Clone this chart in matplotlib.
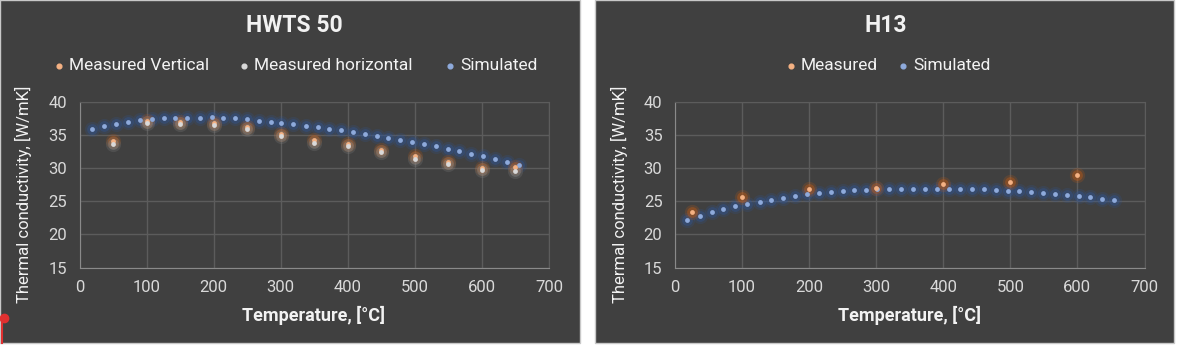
import matplotlib
matplotlib.use("Agg")
import matplotlib.pyplot as plt
from matplotlib.patches import Rectangle
from matplotlib.lines import Line2D

W, H = 1177, 346
BG, GRID, AXIS = "#404040", "#5c5c5c", "#8a8a8a"
TXT, TICK = "#f2f2f2", "#d9d9d9"
C_SIM, C_SIM_GLOW = "#8eaadb", "#2f5597"
C_VERT, C_VERT_GLOW = "#f4b183", "#c55a11"
C_HOR, C_HOR_GLOW = "#d9d9d9", "#8c8c8c"

plt.rcParams["font.family"] = ["Roboto", "DejaVu Sans"]

# simulated curves share the same temperature grid
sim_temp = [18, 37, 55, 72, 90, 108, 126, 143, 161, 179, 197, 214, 232, 250,
            267, 285, 301, 319, 337, 355, 372, 390, 408, 425, 443, 460, 478,
            496, 513, 531, 549, 566, 584, 602, 619, 637, 655]
hwts_sim = [35.9, 36.3, 36.7, 37.0, 37.25, 37.4, 37.5, 37.6, 37.6, 37.6, 37.65,
            37.5, 37.5, 37.35, 37.15, 37.0, 36.8, 36.6, 36.35, 36.15, 35.95,
            35.7, 35.45, 35.15, 34.9, 34.6, 34.2, 33.9, 33.6, 33.25, 32.85,
            32.5, 32.1, 31.8, 31.35, 30.95, 30.4]
h13_sim = [22.2, 22.7, 23.3, 23.75, 24.2, 24.6, 24.9, 25.25, 25.45, 25.8, 26.05,
           26.2, 26.4, 26.5, 26.65, 26.7, 26.8, 26.85, 26.9, 26.9, 26.9, 26.9,
           26.9, 26.9, 26.8, 26.8, 26.65, 26.6, 26.55, 26.35, 26.2, 26.15,
           25.9, 25.8, 25.6, 25.35, 25.25]

hwts_meas_temp = [50, 100, 150, 200, 250, 300, 350, 400, 450, 500, 550, 600, 650]
hwts_vertical = [34.0, 37.15, 37.0, 36.85, 36.2, 35.1, 34.15, 33.6, 32.65,
                 31.75, 30.95, 30.0, 30.15]
hwts_horizontal = [33.55, 36.8, 36.7, 36.5, 35.9, 34.8, 33.8, 33.25, 32.35,
                   31.35, 30.6, 29.7, 29.5]

h13_meas_temp = [25, 100, 200, 300, 400, 500, 600]
h13_measured = [23.3, 25.6, 26.9, 27.05, 27.6, 27.9, 28.95]

x_ticks = [0, 100, 200, 300, 400, 500, 600, 700]
y_ticks = [15, 20, 25, 30, 35, 40]


def px(x, y):
    """pixel (from top-left) -> figure fraction"""
    return x / W, 1 - y / H


def glow(ax, xs, ys, core, halo):
    # soft halo under each dot, like the Excel glow effect
    ax.scatter(xs, ys, s=120, color=halo, alpha=0.2, lw=0, zorder=3)
    ax.scatter(xs, ys, s=60, color=halo, alpha=0.4, lw=0, zorder=3)
    ax.scatter(xs, ys, s=12, color=core, lw=0, zorder=4)


def style(ax):
    ax.set_facecolor(BG)
    ax.set_zorder(2)
    ax.set_xlim(0, 700)
    ax.set_ylim(15, 40)
    ax.set_xticks(x_ticks)
    ax.set_yticks(y_ticks)
    ax.grid(True, color=GRID, lw=1)
    ax.set_axisbelow(True)
    ax.tick_params(length=0, colors=TICK, labelsize=12, pad=9)
    for s in ("top", "right"):
        ax.spines[s].set_color(GRID)
    for s in ("left", "bottom"):
        ax.spines[s].set_color(AXIS)


fig = plt.figure(figsize=(W / 100, H / 100), dpi=100, facecolor="white")

# the two chart panels
for x0, x1 in ((0, 580), (595, 1174)):
    fig.patches.append(Rectangle(px(x0, 343), (x1 - x0) / W, 343 / H,
                                 transform=fig.transFigure, facecolor=BG,
                                 edgecolor="#c8c8c8", lw=1, zorder=-5))

axl = fig.add_axes([79.5 / W, 1 - 267.5 / H, 469.5 / W, 165.8 / H])
axr = fig.add_axes([675 / W, 1 - 267.5 / H, 469.5 / W, 165.8 / H])
for ax in (axl, axr):
    style(ax)

glow(axl, sim_temp, hwts_sim, C_SIM, C_SIM_GLOW)
glow(axl, hwts_meas_temp, hwts_vertical, C_VERT, C_VERT_GLOW)
glow(axl, hwts_meas_temp, hwts_horizontal, C_HOR, C_HOR_GLOW)

glow(axr, sim_temp, h13_sim, C_SIM, C_SIM_GLOW)
glow(axr, h13_meas_temp, h13_measured, C_VERT, C_VERT_GLOW)

# titles, axis labels
for cx, title in ((294, "HWTS 50"), (886, "H13")):
    fig.text(*px(cx, 25), title, ha="center", va="center", fontsize=16.5,
             fontweight="bold", color=TXT)
for cx, cy in ((314, 315), (910, 315)):
    fig.text(*px(cx, cy), "Temperature, [°C]", ha="center", va="center",
             fontsize=13, fontweight="semibold", color=TXT)
for cx in (23.5, 619):
    fig.text(*px(cx, 194), "Thermal conductivity, [W/mK]", ha="center",
             va="center", rotation=90, fontsize=12, color=TXT)

# legends
legend_items = [
    (59, "Measured Vertical", C_VERT), (244, "Measured horizontal", C_HOR),
    (450, "Simulated", C_SIM), (791, "Measured", C_VERT), (903, "Simulated", C_SIM),
]
for mx, label, color in legend_items:
    fx, fy = px(mx, 66)
    fig.lines.append(Line2D([fx], [fy], marker="o", ms=3.4, color=color, lw=0,
                            transform=fig.transFigure))
    fig.text(fx + 10 / W, fy, label, ha="left", va="center", fontsize=12.5,
             color=TXT)

# small red marker in the lower-left corner of the screenshot
fig.lines.append(Line2D([2 / W, 2 / W], [1 - 318 / H, 1 - 343 / H], color="#e03030",
                        lw=1.5, transform=fig.transFigure, zorder=6))
fig.lines.append(Line2D([4 / W], [1 - 318 / H], marker="o", ms=6, lw=0,
                        color="#e03030", transform=fig.transFigure, zorder=6))

fig.savefig("out.png", dpi=100, facecolor=fig.get_facecolor())
